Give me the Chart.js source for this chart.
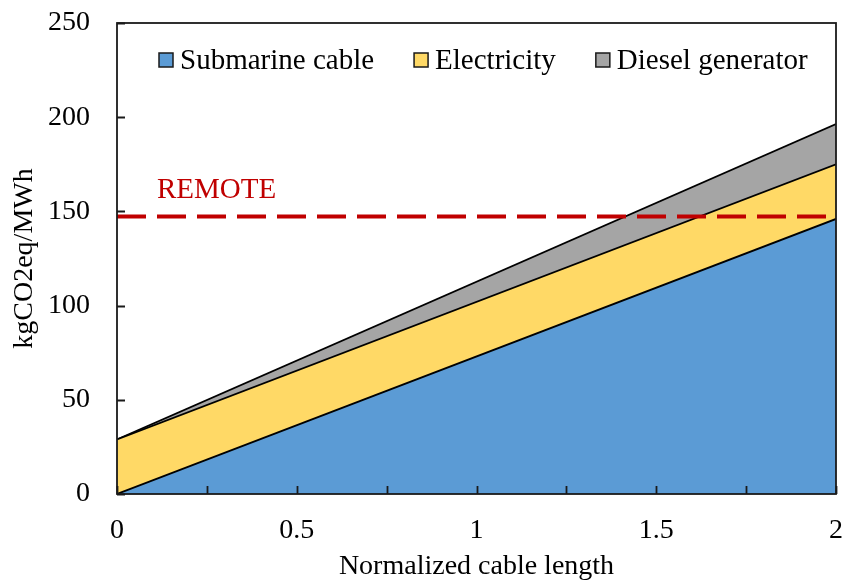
<!DOCTYPE html>
<html>
<head>
<meta charset="utf-8">
<script src="https://cdn.jsdelivr.net/npm/chart.js@4/dist/chart.umd.min.js"></script>
<style>
html,body{margin:0;padding:0;background:#fff;}
#wrap{width:845px;height:583px;}
</style>
</head>
<body>
<div id="wrap"><canvas id="c" width="845" height="583"></canvas></div>
<script>
// ---- data ----
const xValues = [0, 2];                 // normalized cable length
const submarineCable = [0, 146];        // kgCO2eq/MWh
const electricity = [29, 29];
const dieselGenerator = [0, 21.4];
const remoteLevel = [147.3, 147.3];
const seriesNames = ['Submarine cable', 'Electricity', 'Diesel generator'];
const remoteLabel = 'REMOTE';
const xTitle = 'Normalized cable length';
const yTitle = 'kgCO2eq/MWh';

const colors = ['#5B9BD5', '#FFD966', '#A5A5A5'];
const FONT = '"Liberation Serif", "Times New Roman", serif';

const pts = arr => xValues.map((x, i) => ({x: x, y: arr[i]}));

const frameAndTicks = {
  id: 'frameAndTicks',
  afterDatasetsDraw(chart) {
    const ctx = chart.ctx, a = chart.chartArea;
    const xs = chart.scales.x, ys = chart.scales.y;
    ctx.save();
    ctx.strokeStyle = '#1a1a1a';
    ctx.lineWidth = 1.8;
    ctx.beginPath();
    xs.ticks.forEach(t => {
      const px = Math.round(xs.getPixelForValue(t.value)) + 0.5;
      ctx.moveTo(px, a.bottom);
      ctx.lineTo(px, a.bottom - 8);
    });
    ys.ticks.forEach(t => {
      const py = Math.round(ys.getPixelForValue(t.value)) + 0.5;
      ctx.moveTo(a.left, py);
      ctx.lineTo(a.left + 8, py);
    });
    ctx.stroke();
    ctx.strokeRect(a.left, a.top, a.right - a.left, a.bottom - a.top);

    // REMOTE label
    ctx.fillStyle = '#C00000';
    ctx.font = '29px ' + FONT;
    ctx.textBaseline = 'alphabetic';
    ctx.textAlign = 'left';
    ctx.fillText(remoteLabel, a.left + 40, ys.getPixelForValue(remoteLevel[0]) - 18);

    // legend
    ctx.font = '29px ' + FONT;
    ctx.textBaseline = 'middle';
    let x = a.left + 42;
    const cy = a.top + 37;
    seriesNames.forEach((n, i) => {
      ctx.fillStyle = colors[i];
      ctx.fillRect(x, cy - 7, 14, 14);
      ctx.strokeStyle = '#1a1a1a';
      ctx.lineWidth = 1.5;
      ctx.strokeRect(x, cy - 7, 14, 14);
      ctx.fillStyle = '#000';
      ctx.fillText(n, x + 21, cy + 1);
      x += 21 + ctx.measureText(n).width + 40;
    });
    ctx.restore();
  }
};

new Chart(document.getElementById('c'), {
  type: 'line',
  data: {
    datasets: [
      {
        label: remoteLabel, data: pts(remoteLevel), stack: 'remote',
        borderColor: '#C00000', borderWidth: 4, borderDash: [29, 11],
        borderCapStyle: 'butt', fill: false, pointRadius: 0
      },
      {
        label: seriesNames[0], data: pts(submarineCable), stack: 'main',
        borderColor: '#000', borderWidth: 1.8, backgroundColor: colors[0],
        fill: 'origin', pointRadius: 0
      },
      {
        label: seriesNames[1], data: pts(electricity), stack: 'main',
        borderColor: '#000', borderWidth: 1.8, backgroundColor: colors[1],
        fill: '-1', pointRadius: 0
      },
      {
        label: seriesNames[2], data: pts(dieselGenerator), stack: 'main',
        borderColor: '#000', borderWidth: 1.8, backgroundColor: colors[2],
        fill: '-1', pointRadius: 0
      }
    ]
  },
  options: {
    responsive: false,
    animation: false,
    events: [],
    layout: {padding: {top: 23, right: 9, left: 0, bottom: 0}},
    plugins: {legend: {display: false}, tooltip: {enabled: false}},
    scales: {
      x: {
        type: 'linear', min: 0, max: 2,
        grid: {display: false, drawTicks: false}, border: {display: false},
        ticks: {
          stepSize: 0.25, autoSkip: false, maxRotation: 0, padding: 20,
          color: '#000', font: {family: FONT, size: 28},
          callback: v => (Math.abs(v * 2 - Math.round(v * 2)) < 1e-9 ? String(v) : '')
        },
        title: {display: true, text: xTitle, color: '#000', font: {family: FONT, size: 28}, padding: 0},
        afterFit: s => { s.height = 89; s.paddingLeft = 0; s.paddingRight = 0; }
      },
      y: {
        stacked: true, min: 0, max: 250,
        grid: {display: false, drawTicks: false}, border: {display: false},
        ticks: {stepSize: 50, padding: 27, color: '#000', font: {family: FONT, size: 28}},
        title: {display: true, text: yTitle, color: '#000', font: {family: FONT, size: 28}, padding: {top: 8, bottom: 0}},
        afterFit: s => { s.width = 117; s.paddingTop = 0; s.paddingBottom = 0; }
      }
    }
  },
  plugins: [frameAndTicks]
});
</script>
</body>
</html>
